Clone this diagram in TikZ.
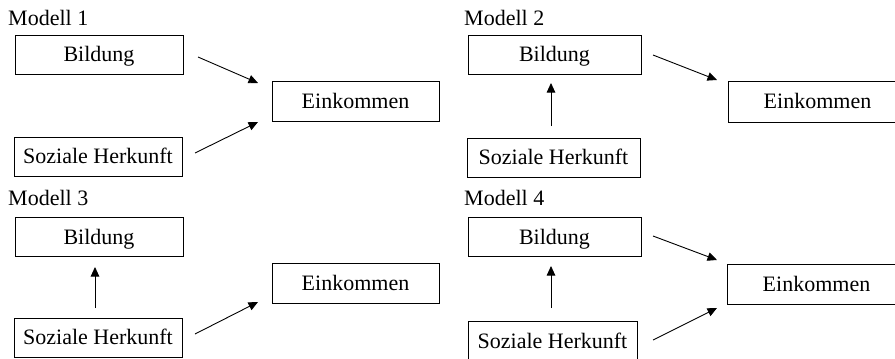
\documentclass[tikz,border=0pt]{standalone}
\usepackage{fontspec}
\setmainfont{Liberation Serif}
\usetikzlibrary{arrows.meta}
\tikzset{
  box/.style={draw, line width=0.9pt, inner sep=0pt, minimum width=168pt, minimum height=39pt,
    font=\fontsize{22}{22}\selectfont, text height=14.6pt, text depth=0pt},
  lbl/.style={anchor=base west, inner sep=0pt, font=\fontsize{22}{22}\selectfont},
  arr/.style={line width=0.9pt, -{Triangle[length=9.5pt,width=8.5pt]}}
}
\begin{document}
\begin{tikzpicture}[x=1pt,y=-1pt]
\useasboundingbox (0,0) rectangle (895,359);
\clip (0,0) rectangle (895,359);
% Modell 1
\node[lbl] (l1) at (8,25) {Modell 1};
\node[box] (B1) at (99,54.5) {Bildung};
\node[box] (S1) at (98,156.5) {Soziale Herkunft};
\node[box, minimum width=167pt, minimum height=40pt] (E1) at (355.5,101) {Einkommen};
\coordinate (a1s) at (198,57); \coordinate (a1e) at (258,83);
\coordinate (b1s) at (195,153); \coordinate (b1e) at (258,122);
\draw[arr] (a1s) -- (a1e);
\draw[arr] (b1s) -- (b1e);
% Modell 2
\node[lbl] (l2) at (464,25) {Modell 2};
\node[box, minimum width=173pt] (B2) at (554.5,54.5) {Bildung};
\node[box, minimum width=173pt] (S2) at (553.5,157.5) {Soziale Herkunft};
\node[box, minimum width=179pt, minimum height=41pt] (E2) at (817.5,101.5) {Einkommen};
\coordinate (a2s) at (653,55); \coordinate (a2e) at (717,80);
\coordinate (v2s) at (551,126); \coordinate (v2e) at (551,83);
\draw[arr] (a2s) -- (a2e);
\draw[arr] (v2s) -- (v2e);
% Modell 3
\node[lbl] (l3) at (8,205) {Modell 3};
\node[box] (B3) at (99,237) {Bildung};
\node[box] (S3) at (98,337.5) {Soziale Herkunft};
\node[box, minimum width=167pt, minimum height=40pt] (E3) at (355.5,283) {Einkommen};
\coordinate (v3s) at (95,308); \coordinate (v3e) at (95,267);
\coordinate (b3s) at (195,334); \coordinate (b3e) at (258,302);
\draw[arr] (v3s) -- (v3e);
\draw[arr] (b3s) -- (b3e);
% Modell 4
\node[lbl] (l4) at (464,205) {Modell 4};
\node[box, minimum width=173pt] (B4) at (554.5,237) {Bildung};
\node[box, minimum width=169pt] (S4) at (552.5,341) {Soziale Herkunft};
\node[box, minimum width=179pt, minimum height=40pt] (E4) at (816.5,284) {Einkommen};
\coordinate (a4s) at (653,236); \coordinate (a4e) at (717,260);
\coordinate (b4s) at (653,340); \coordinate (b4e) at (717,308);
\coordinate (v4s) at (551,308); \coordinate (v4e) at (551,266);
\draw[arr] (a4s) -- (a4e);
\draw[arr] (b4s) -- (b4e);
\draw[arr] (v4s) -- (v4e);
\end{tikzpicture}
\end{document}
